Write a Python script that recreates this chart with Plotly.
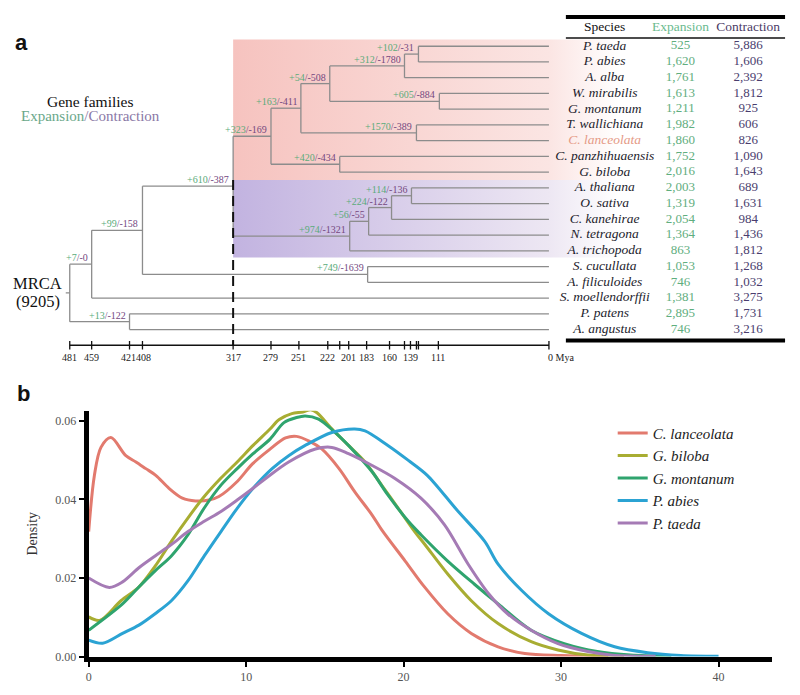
import plotly.graph_objects as go

SERIF = "Liberation Serif, Times New Roman, serif"
SANS = "Liberation Sans, Arial, sans-serif"
GREEN_T = "#5aab7a"
PURPLE_T = "#74487f"

# ---------------- Panel a data ----------------
species = ["P. taeda", "P. abies", "A. alba", "W. mirabilis", "G. montanum",
           "T. wallichiana", "C. lanceolata", "C. panzhihuaensis", "G. biloba",
           "A. thaliana", "O. sativa", "C. kanehirae", "N. tetragona",
           "A. trichopoda", "S. cucullata", "A. filiculoides",
           "S. moellendorffii", "P. patens", "A. angustus"]
expansion = [525, 1620, 1761, 1613, 1211, 1982, 1860, 1752, 2016, 2003,
             1319, 2054, 1364, 863, 1053, 746, 1381, 2895, 746]
contraction = [5886, 1606, 2392, 1812, 925, 606, 826, 1090, 1643, 689,
               1631, 984, 1436, 1812, 1268, 1032, 3275, 1731, 3216]

# internal nodes: name, age (Mya), children, gained, lost
node_names = ["n1", "n2", "n3", "n4", "n5", "n6", "n7", "n8",
              "a1", "a2", "a3", "a4", "s", "f", "v", "t", "b", "root"]
node_ages = [131, 145, 110, 220, 133, 249, 210, 279,
             138, 158, 181, 200, 317, 182, 408, 459, 421, 481]
node_children = [["P. taeda", "P. abies"], ["n1", "A. alba"],
                 ["W. mirabilis", "G. montanum"], ["n2", "n3"],
                 ["T. wallichiana", "C. lanceolata"], ["n4", "n5"],
                 ["C. panzhihuaensis", "G. biloba"], ["n6", "n7"],
                 ["A. thaliana", "O. sativa"], ["a1", "C. kanehirae"],
                 ["a2", "N. tetragona"], ["a3", "A. trichopoda"],
                 ["n8", "a4"], ["S. cucullata", "A. filiculoides"],
                 ["s", "f"], ["v", "S. moellendorffii"],
                 ["P. patens", "A. angustus"], ["t", "b"]]
node_gain = [102, 312, 605, 54, 1570, 163, 420, 323,
             114, 224, 56, 974, 610, 749, 99, 7, 13, None]
node_loss = [31, 1780, 884, 508, 389, 411, 434, 169,
             136, 122, 55, 1321, 387, 1639, 158, 0, 122, None]

mrca_families = 9205
tick_vals = [481, 459, 421, 408, 317, 279, 251, 222, 210, 201, 183, 160,
             145, 139, 133, 131, 111, 0]
tick_text = ["481", "459", "421", "408", "317", "279", "251", "222", "",
             "201", "183", "160", "", "139", "", "", "111", "0 Mya"]

# ---------------- Panel b data ----------------
dens_names = ["C. lanceolata", "G. biloba", "G. montanum", "P. abies", "P. taeda"]
dens_colors = ["#e27a6e", "#a8ad32", "#2fa46e", "#2ba3d3", "#a57bb5"]

cl_x = [0, 0.36, 0.78, 1.41, 2.36, 3.0, 3.63, 4.26, 5.1, 5.95, 6.79, 7.64, 8.27,
        9.4, 10.4, 11.5, 12.5, 13.2, 14.0, 14.8, 15.9, 16.9, 18.0, 18.6, 20.1,
        21.35, 22.8, 24.3, 26.0, 27.7, 30.0, 33.0]
cl_y = [0.0318, 0.046, 0.0532, 0.0557, 0.0511, 0.0495, 0.0478, 0.0461, 0.0428,
        0.0403, 0.0396, 0.0398, 0.0407, 0.0444, 0.049, 0.0527, 0.0556, 0.0560,
        0.0548, 0.0528, 0.0478, 0.0419, 0.036, 0.0323, 0.0243, 0.0176, 0.0109,
        0.0059, 0.0025, 0.0008, 0.0003, 0.0001]

gb_x = [0, 0.7, 2.05, 3.19, 4.22, 5.25, 6.31, 7.34, 8.4, 9.43, 10.44, 11.5,
        12.1, 12.9, 13.6, 14.1, 14.5, 15.44, 16.5, 17.55, 18.6, 19.66, 20.7,
        21.35, 22.8, 24.3, 26.0, 28.1, 29.8, 31.7, 34.0]
gb_y = [0.0101, 0.0092, 0.0142, 0.0177, 0.023, 0.0293, 0.0353, 0.0407, 0.0454,
        0.0495, 0.0537, 0.0578, 0.0603, 0.0618, 0.0622, 0.0628, 0.0620, 0.0579,
        0.0537, 0.0495, 0.0436, 0.0377, 0.0318, 0.0285, 0.021, 0.0142, 0.0084,
        0.0038, 0.0017, 0.0004, 0.0001]

gm_x = [0, 2.15, 3.19, 4.22, 5.25, 6.31, 7.34, 8.4, 9.43, 10.44, 11.52, 12.4,
        13.2, 13.75, 14.6, 15.65, 16.9, 18.0, 19.0, 20.3, 21.1, 22.8, 24.5,
        26.0, 28.1, 30.2, 32.3, 34.4, 37.0]
gm_y = [0.0067, 0.0134, 0.0177, 0.0218, 0.0256, 0.031, 0.0378, 0.0436, 0.0478,
        0.0516, 0.0553, 0.0595, 0.0608, 0.0612, 0.0604, 0.057, 0.052, 0.047,
        0.0411, 0.0344, 0.031, 0.0243, 0.0184, 0.0134, 0.0067, 0.0033, 0.0013,
        0.0004, 0.0001]

pa_x = [0, 0.89, 2.15, 3.19, 4.22, 5.25, 6.31, 7.34, 8.4, 9.43, 10.44, 11.65,
        12.7, 13.75, 15.44, 16.9, 17.55, 19.0, 20.3, 21.5, 23.4, 25.15, 26.0,
        27.5, 29.2, 31.3, 33.4, 35.5, 37.6, 40.0]
pa_y = [0.0042, 0.0034, 0.0059, 0.008, 0.0109, 0.0142, 0.0193, 0.0256, 0.0318,
        0.0377, 0.0428, 0.0478, 0.0511, 0.0537, 0.057, 0.0579, 0.0574, 0.0537,
        0.0499, 0.0461, 0.0372, 0.0293, 0.0235, 0.0168, 0.0109, 0.0059, 0.0025,
        0.001, 0.0003, 0.0001]

pt_x = [0, 1.31, 2.15, 3.19, 4.22, 5.25, 6.31, 7.34, 8.4, 9.43, 10.44, 11.3,
        12.7, 14.4, 15.44, 16.5, 18.0, 19.45, 21.1, 22.6, 24.1, 25.4, 26.6,
        28.1, 29.8, 31.7, 33.4, 36.0]
pt_y = [0.020, 0.0176, 0.019, 0.0226, 0.0256, 0.0285, 0.0318, 0.0344, 0.0369,
        0.0398, 0.0428, 0.0455, 0.0495, 0.0528, 0.0532, 0.0516, 0.0486, 0.0453,
        0.0403, 0.0335, 0.0235, 0.016, 0.0109, 0.0067, 0.0033, 0.0013, 0.0003,
        0.0001]

dens_x = [cl_x, gb_x, gm_x, pa_x, pt_x]
dens_y = [cl_y, gb_y, gm_y, pa_y, pt_y]

# ---------------- build tree geometry ----------------
leaf_row = {s: i for i, s in enumerate(species)}
nodes = {n: (a, c, g, l) for n, a, c, g, l in
         zip(node_names, node_ages, node_children, node_gain, node_loss)}


def y_of(n):
    if n in leaf_row:
        return leaf_row[n]
    ys = [y_of(c) for c in nodes[n][1]]
    return (min(ys) + max(ys)) / 2


def age_of(n):
    return 0 if n in leaf_row else nodes[n][0]


tx, ty = [], []
for n in node_names:
    a, ch, g, l = nodes[n]
    ys = [y_of(c) for c in ch]
    tx += [a, a, None]
    ty += [min(ys), max(ys), None]
    for c in ch:
        tx += [a, age_of(c), None]
        ty += [y_of(c), y_of(c), None]
root_age = nodes["root"][0]
tx += [root_age + 4, root_age, None]
ty += [y_of("root"), y_of("root"), None]

axis_row = len(species)
fig = go.Figure()

# clade shading with horizontal gradients (strong at the left, fading right)
pink_top, split, purple_bot = -0.42, leaf_row["G. biloba"] + 0.5, leaf_row["A. trichopoda"] + 0.42
seed_age = nodes["s"][0]
x_fade = -70
f0 = seed_age / (seed_age - x_fade)
for y0, y1, cL, cM in [(pink_top, split, "rgb(246,195,191)", "rgb(251,229,227)"),
                       (split, purple_bot, "rgb(194,179,224)", "rgb(237,231,243)")]:
    fig.add_trace(go.Scatter(x=[seed_age, x_fade, x_fade, seed_age, seed_age],
                             y=[y0, y0, y1, y1, y0], mode="none", fill="toself",
                             fillgradient=dict(type="horizontal",
                                               colorscale=[[0, cL], [f0, cM], [1, "rgb(255,255,255)"]]),
                             xaxis="x2", yaxis="y2", showlegend=False, hoverinfo="skip"))

fig.add_trace(go.Scatter(x=tx, y=ty, mode="lines", xaxis="x2", yaxis="y2",
                         line=dict(color="#8c8c8c", width=1.3), showlegend=False,
                         hoverinfo="skip"))

# dashed line at seed-plant node
fig.add_trace(go.Scatter(x=[seed_age, seed_age], y=[split, axis_row], mode="lines",
                         xaxis="x2", yaxis="y2",
                         line=dict(color="#111", width=2, dash="10px,6px"),
                         showlegend=False, hoverinfo="skip"))

# time axis
fig.add_trace(go.Scatter(x=[tick_vals[0], 0], y=[axis_row, axis_row], mode="lines",
                         xaxis="x2", yaxis="y2", line=dict(color="#111", width=1.5),
                         showlegend=False, hoverinfo="skip"))
fig.add_trace(go.Scatter(x=tick_vals, y=[axis_row] * len(tick_vals), mode="markers",
                         xaxis="x2", yaxis="y2",
                         marker=dict(symbol="line-ns", size=6, line=dict(color="#111", width=1.3)),
                         showlegend=False, hoverinfo="skip"))

annotations = []
shift = {"421": -1.5, "408": 1.5}
for v, t in zip(tick_vals, tick_text):
    if not t:
        continue
    annotations.append(dict(x=v + 3 if v == 0 else v, y=axis_row + 0.8, xref="x2", yref="y2",
                            text=t, showarrow=False, xshift=shift.get(t, 0),
                            xanchor="left" if v == 0 else "center",
                            font=dict(family=SERIF, size=10, color="#222")))

# branch labels
for n in node_names:
    a, ch, g, l = nodes[n]
    if g is None:
        continue
    txt = ("<span style='color:%s'>+%d</span><span style='color:%s'>/-%d</span>"
           % (GREEN_T, g, PURPLE_T, l))
    annotations.append(dict(x=a + 2, y=y_of(n), xref="x2", yref="y2", text=txt,
                            showarrow=False, xanchor="right", yanchor="bottom",
                            yshift=-1, font=dict(family=SERIF, size=10)))

# MRCA + legend text
annotations.append(dict(x=root_age + 6, y=15.1, xref="x2", yref="y2",
                        text="MRCA", showarrow=False, xanchor="right",
                        font=dict(family=SERIF, size=16.5, color="#111")))
annotations.append(dict(x=root_age + 8, y=16.2, xref="x2", yref="y2",
                        text="(%d)" % mrca_families, showarrow=False, xanchor="right",
                        font=dict(family=SERIF, size=16.5, color="#111")))
annotations.append(dict(x=460, y=3.48, xref="x2", yref="y2",
                        text="Gene families", showarrow=False, xanchor="center",
                        font=dict(family=SERIF, size=15.5, color="#111")))
annotations.append(dict(x=460, y=4.42, xref="x2", yref="y2",
                        text="<span style='color:#6aa88a'>Expansion</span><span style='color:#8a78a6'>/Contraction</span>",
                        showarrow=False, xanchor="center",
                        font=dict(family=SERIF, size=15)))

# ---------------- table ----------------
col_sp, col_ex, col_co = -56, -132, -200
tab_l, tab_r = -17, -237
hdr_row = -1.16
fig.add_trace(go.Scatter(x=[tab_l, tab_r, None, tab_l, tab_r], y=[-1.86, -1.86, None, 18.7, 18.7],
                         mode="lines", xaxis="x2", yaxis="y2", line=dict(color="#000", width=4),
                         showlegend=False, hoverinfo="skip"))
fig.add_trace(go.Scatter(x=[tab_l, tab_r], y=[-0.53, -0.53], mode="lines", xaxis="x2", yaxis="y2",
                         line=dict(color="#111", width=1.5), showlegend=False, hoverinfo="skip"))
rows = list(range(len(species)))
sp_colors = ["#e59a86" if s == "C. lanceolata" else "#1c1c2c" for s in species]
fig.add_trace(go.Scatter(x=[col_sp] * len(species), y=rows, mode="text",
                         text=["<i>%s</i>" % s for s in species], xaxis="x2", yaxis="y2",
                         textfont=dict(family=SERIF, size=13.5, color=sp_colors),
                         showlegend=False, hoverinfo="skip"))
fig.add_trace(go.Scatter(x=[col_ex] * len(species), y=rows, mode="text",
                         text=["{:,}".format(v) for v in expansion], xaxis="x2", yaxis="y2",
                         textfont=dict(family=SERIF, size=13, color="#5fae7e"),
                         showlegend=False, hoverinfo="skip"))
fig.add_trace(go.Scatter(x=[col_co] * len(species), y=rows, mode="text",
                         text=["{:,}".format(v) for v in contraction], xaxis="x2", yaxis="y2",
                         textfont=dict(family=SERIF, size=13, color="#4a3d6e"),
                         showlegend=False, hoverinfo="skip"))
fig.add_trace(go.Scatter(x=[col_sp, col_ex, col_co], y=[hdr_row] * 3, mode="text",
                         text=["Species", "Expansion", "Contraction"], xaxis="x2", yaxis="y2",
                         textfont=dict(family=SERIF, size=13.5, color=["#111", "#6aba8e", "#4b3b66"]),
                         showlegend=False, hoverinfo="skip"))

# ---------------- density curves ----------------
for name, col, xs, ys in zip(dens_names, dens_colors, dens_x, dens_y):
    fig.add_trace(go.Scatter(x=xs, y=ys, mode="lines", name="<i>%s</i>" % name,
                             line=dict(color=col, width=3, shape="spline", smoothing=0.9),
                             xaxis="x", yaxis="y", hoverinfo="skip"))

annotations.append(dict(x=19 / 800, y=1 - 43 / 695, xref="paper", yref="paper", text="<b>a</b>",
                        showarrow=False, xanchor="center", yanchor="middle",
                        font=dict(family=SANS, size=22, color="#111")))
annotations.append(dict(x=21 / 800, y=1 - 398 / 695, xref="paper", yref="paper", text="<b>b</b>",
                        showarrow=False, xanchor="center", yanchor="middle",
                        font=dict(family=SANS, size=22, color="#111")))

fig.update_layout(
    width=800, height=695, autosize=False,
    margin=dict(l=0, r=0, t=0, b=0),
    paper_bgcolor="white", plot_bgcolor="rgba(0,0,0,0)",
    annotations=annotations,
    xaxis=dict(domain=[86 / 800, 772 / 800], range=[0, 43.4], showgrid=False, zeroline=False,
               showline=True, linewidth=5, linecolor="#000", ticks="outside", ticklen=5,
               tickwidth=1.5, tickcolor="#000", tickvals=[0, 10, 20, 30, 40],
               tickfont=dict(family=SERIF, size=12, color="#555")),
    yaxis=dict(domain=[1 - 663.3 / 695, 1 - 415 / 695], range=[0, 0.0625], showgrid=False,
               zeroline=False, showline=True, linewidth=5, linecolor="#000", ticks="outside",
               ticklen=5, tickwidth=1.5, tickcolor="#000", tickvals=[0, 0.02, 0.04, 0.06],
               ticktext=["0.00", "0.02", "0.04", "0.06"],
               tickfont=dict(family=SERIF, size=12, color="#555"),
               title=dict(text="Density", font=dict(family=SERIF, size=14, color="#333"), standoff=16)),
    xaxis2=dict(domain=[0, 1], range=[548, -252], visible=False, anchor="y2"),
    yaxis2=dict(domain=[0.47, 1], range=[20.23, -2.937], visible=False, anchor="x2"),
    legend=dict(x=612 / 800, y=1 - 421 / 695, xanchor="left", yanchor="top",
                font=dict(family=SERIF, size=15, color="#222"), bgcolor="rgba(0,0,0,0)",
                itemwidth=30),
)

fig.write_html("out.html")
